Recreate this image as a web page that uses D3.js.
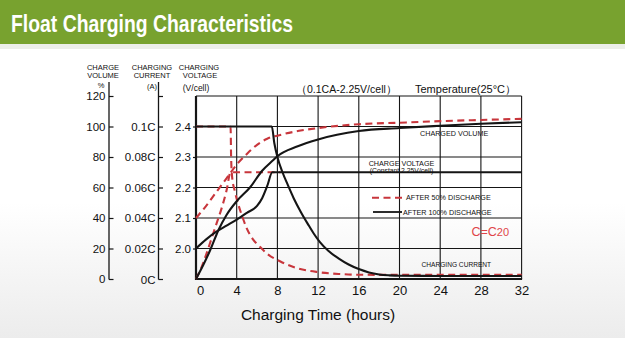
<!DOCTYPE html>
<html><head><meta charset="utf-8">
<script src="https://cdn.jsdelivr.net/npm/d3@7"></script>
<style>
body{margin:0;background:#fff}
svg{display:block;font-family:"Liberation Sans",Arial,Helvetica,sans-serif}
</style>
</head><body>
<svg id="chart" width="625" height="338"></svg>
<script>
// ---- data ----
const hourTicks = [0,4,8,12,16,20,24,28,32];
const volumeTicks = [0,20,40,60,80,100,120];
const currentTicks = [0,0.02,0.04,0.06,0.08,0.1,0.12];
const currentTickLabels = ["0C","0.02C","0.04C","0.06C","0.08C","0.1C",""];
const voltageTicks = [2.0,2.1,2.2,2.3,2.4];

// after 100% discharge (black, solid)
const vol100T = [0,0.7,1.4,2.2,3,4,5.3,6.5,7.6,8,10,12,16,20,24,28,32];
const vol100  = [0,9,19,32,42,51,60,71,78,80.5,87,91.5,97,99,100.5,101.8,102.8];
const volt100T = [0,1,2,3,4,5,6,6.5,7,7.5,32];
const volt100  = [2.0,2.03,2.055,2.075,2.095,2.117,2.14,2.165,2.205,2.25,2.25];
const cur100T = [0,7.45,7.7,8,8.5,9,9.6,10.3,11,11.6,12.2,13,14,15,16,17,18,19,20,24,28,32];
const cur100  = [0.1,0.1,0.089,0.08,0.07,0.062,0.053,0.044,0.036,0.0295,0.024,0.0185,0.0135,0.0095,0.0065,0.0043,0.003,0.0024,0.0021,0.002,0.002,0.002];

// after 50% discharge (red, dashed)
const vol50T = [0,1,2,3,4,5,6,7,8,10,12,16,20,24,28,32];
const vol50  = [40,48,57,66,75,82,88,92,94,97,99,101.5,102.5,103.5,104.3,105];
const volt50T = [0,0.5,1,1.5,2,2.5,3,3.4,8.3];
const volt50  = [1.9,1.935,1.98,2.03,2.08,2.13,2.19,2.25,2.25];
const cur50T = [0,3.4,3.45,3.55,3.8,4.2,4.6,5,5.6,6.3,7,8.3,10,12,14,16,20,24,28,32];
const cur50  = [0.1,0.1,0.08,0.067,0.058,0.048,0.04,0.033,0.026,0.021,0.0165,0.0115,0.007,0.0045,0.0033,0.0028,0.0027,0.0027,0.0027,0.0027];

// ---- drawing ----
const svg = d3.select("#chart");
const RED = "#c8363c", BLACK = "#151515";

const defs = svg.append("defs");
const bg = defs.append("linearGradient").attr("id","bg").attr("x1",0).attr("y1",0).attr("x2",0).attr("y2",1);
bg.append("stop").attr("offset","0.6").attr("stop-color","#ffffff");
bg.append("stop").attr("offset","1").attr("stop-color","#ececec");
svg.append("rect").attr("width",625).attr("height",338).attr("fill","url(#bg)");

// header
svg.append("rect").attr("x",0).attr("y",0).attr("width",625).attr("height",44).attr("fill","#78a22f");
svg.append("rect").attr("x",0).attr("y",44).attr("width",625).attr("height",5).attr("fill","#eceee8");
svg.append("text").attr("x",11).attr("y",31.5).attr("fill","#fff")
  .attr("font-size",24).attr("font-weight","bold")
  .attr("textLength",282).attr("lengthAdjust","spacingAndGlyphs")
  .text("Float Charging Characteristics");

const x = d3.scaleLinear([0,32],[196,521.6]);
const yVol = d3.scaleLinear([0,120],[279,96]);
const yCur = d3.scaleLinear([0,0.12],[279,96]);
const yVolt = d3.scaleLinear([1.9,2.5],[279,96]);

const [x0,x1] = x.range();
const [yb,yt] = yVol.range();

// grid
const grid = svg.append("g").attr("stroke",BLACK).attr("stroke-width",1.1);
grid.selectAll("line.v").data(hourTicks).join("line")
  .attr("x1",d=>x(d)).attr("x2",d=>x(d)).attr("y1",yt).attr("y2",yb);
grid.selectAll("line.h").data(voltageTicks.concat([2.5])).join("line")
  .attr("x1",x0).attr("x2",x1).attr("y1",d=>yVolt(d)).attr("y2",d=>yVolt(d));
// thick left & bottom borders
svg.append("line").attr("x1",x0).attr("x2",x0).attr("y1",yt).attr("y2",yb+1).attr("stroke",BLACK).attr("stroke-width",2.2);
svg.append("line").attr("x1",x0-1).attr("x2",x1+0.5).attr("y1",yb).attr("y2",yb).attr("stroke",BLACK).attr("stroke-width",2.2);

// axes
function styleAxis(g, fs){
  g.select(".domain").remove();
  g.selectAll(".tick line").attr("stroke",BLACK).attr("stroke-width",1.2);
  g.selectAll(".tick text").attr("fill","#111").attr("font-size",fs).attr("font-family","Liberation Sans, Arial, sans-serif");
}
const volAxisX = 109, curAxisX = 158.5;
const gVol = svg.append("g").attr("transform",`translate(${volAxisX},0)`)
  .call(d3.axisLeft(yVol).tickValues(volumeTicks).tickFormat(d3.format("d")).tickSizeInner(-4.5).tickSizeOuter(0).tickPadding(3.5));
styleAxis(gVol, 11.5);
svg.append("line").attr("x1",volAxisX).attr("x2",volAxisX).attr("y1",82).attr("y2",yb+0.5).attr("stroke",BLACK).attr("stroke-width",1.3);

const gCur = svg.append("g").attr("transform",`translate(${curAxisX},0)`)
  .call(d3.axisLeft(yCur).tickValues(currentTicks).tickFormat((d,i)=>currentTickLabels[i]).tickSizeInner(-4.5).tickSizeOuter(0).tickPadding(3));
styleAxis(gCur, 11.5);
gCur.selectAll(".tick text").filter(d=>d===0).attr("dy","0.4em");
svg.append("line").attr("x1",curAxisX).attr("x2",curAxisX).attr("y1",82).attr("y2",yb+0.5).attr("stroke",BLACK).attr("stroke-width",1.3);

const gVolt = svg.append("g").attr("transform",`translate(${x0},0)`)
  .call(d3.axisLeft(yVolt).tickValues(voltageTicks).tickFormat(d3.format(".1f")).tickSizeInner(3).tickSizeOuter(0).tickPadding(2));
styleAxis(gVolt, 11.5);

const gX = svg.append("g").attr("transform",`translate(0,${yb})`)
  .call(d3.axisBottom(x).tickValues(hourTicks).tickSize(0).tickPadding(7));
styleAxis(gX, 13);
gX.selectAll(".tick text").filter(d=>d===0).attr("dx","4");

// axis headers
const hdr = svg.append("g").attr("font-size",7.5).attr("fill","#111").attr("text-anchor","middle");
[[103,70,"CHARGE"],[103,78,"VOLUME"],[101,87.5,"%"],
 [152,70,"CHARGING"],[152,78,"CURRENT"],[152,88.5,"(A)"],
 [199,70,"CHARGING"],[200,78,"VOLTAGE"]].forEach(([a,b,t])=>hdr.append("text").attr("x",a).attr("y",b).text(t));
hdr.append("text").attr("x",196).attr("y",91).attr("font-size",8.5).text("(V/cell)");

// top notes
svg.append("text").attr("x",296).attr("y",93).attr("font-size",10.5).attr("fill","#111").text("（0.1CA-2.25V/cell）");
svg.append("text").attr("x",415).attr("y",93).attr("font-size",11).attr("fill","#111")
  .text("Temperature(25°C）");

// curves
const line = (ys, yscale) => d3.line().x(d=>x(d[0])).y(d=>yscale(d[1])).curve(d3.curveMonotoneX);
const zip = (a,b) => a.map((t,i)=>[t,b[i]]);
const curves = svg.append("g").attr("fill","none");

const red = [[cur50T,cur50,yCur],[volt50T,volt50,yVolt],[vol50T,vol50,yVol]];
red.forEach(([t,v,s])=>curves.append("path").datum(zip(t,v)).attr("d",line(v,s))
  .attr("stroke",RED).attr("stroke-width",2.1).attr("stroke-dasharray","7,4.5"));

const black = [[cur100T,cur100,yCur],[volt100T,volt100,yVolt],[vol100T,vol100,yVol]];
black.forEach(([t,v,s])=>curves.append("path").datum(zip(t,v)).attr("d",line(v,s))
  .attr("stroke",BLACK).attr("stroke-width",2.1));

// annotations
const ann = svg.append("g").attr("fill","#111").attr("font-size",7.2);
ann.append("text").attr("x",420).attr("y",135.5).text("CHARGED VOLUME");
ann.append("text").attr("x",401.5).attr("y",165.5).attr("text-anchor","middle").text("CHARGE VOLTAGE");
ann.append("text").attr("x",401.5).attr("y",172.5).attr("text-anchor","middle").attr("font-size",6.8).text("(Constant 2.25V/cell)");
ann.append("text").attr("x",406).attr("y",200.3).text("AFTER 50% DISCHARGE");
ann.append("text").attr("x",403).attr("y",214.8).text("AFTER 100% DISCHARGE");
ann.append("text").attr("x",421.5).attr("y",267).attr("font-size",6.6).text("CHARGING CURRENT");

svg.append("line").attr("x1",372).attr("x2",402).attr("y1",197.8).attr("y2",197.8)
  .attr("stroke",RED).attr("stroke-width",2.1).attr("stroke-dasharray","7,4.5");
svg.append("line").attr("x1",373).attr("x2",402).attr("y1",212).attr("y2",212)
  .attr("stroke",BLACK).attr("stroke-width",1.8);

const cc = svg.append("text").attr("x",471.5).attr("y",235.5).attr("fill","#e04448").attr("font-size",12.5);
cc.append("tspan").text("C=C");
cc.append("tspan").attr("font-size",11).text("20");

svg.append("text").attr("x",318).attr("y",319.5).attr("text-anchor","middle")
  .attr("font-size",15.5).attr("fill","#111").text("Charging Time (hours)");
</script>
</body></html>
